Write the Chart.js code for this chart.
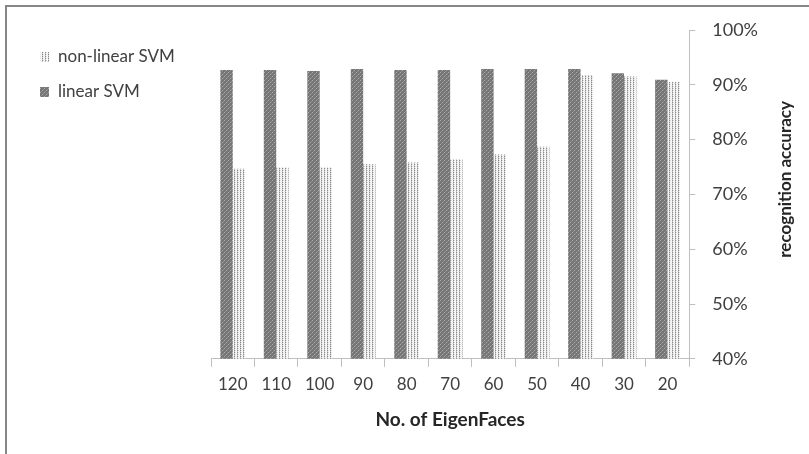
<!DOCTYPE html>
<html>
<head>
<meta charset="utf-8">
<script src="https://cdn.jsdelivr.net/npm/chart.js@4/dist/chart.umd.min.js"></script>
<style>
  html, body { margin: 0; padding: 0; background: #ffffff; }
  #wrap { width: 809px; height: 454px; }
</style>
</head>
<body>
<div id="wrap"><canvas id="c" width="809" height="454"></canvas></div>
<script>
// Recognition accuracy (%) per number of eigenfaces
const categories = ['120', '110', '100', '90', '80', '70', '60', '50', '40', '30', '20'];
const linearSVM = [92.7, 92.7, 92.5, 92.9, 92.7, 92.7, 92.9, 92.9, 92.9, 92.1, 90.9];
const nonLinearSVM = [74.7, 74.9, 74.9, 75.5, 75.8, 76.4, 77.3, 78.7, 91.8, 91.5, 90.5];
const yTicks = [40, 50, 60, 70, 80, 90, 100];

const FONT = 'Lato, "Open Sans", sans-serif';

// Small repeating pixel tiles used as bar fills
function makePattern(w, h, base, dots) {
  const t = document.createElement('canvas');
  t.width = w; t.height = h;
  const g = t.getContext('2d');
  g.fillStyle = base;
  g.fillRect(0, 0, w, h);
  dots.forEach(([x, y, col]) => { g.fillStyle = col; g.fillRect(x, y, 1, 1); });
  return g.createPattern(t, 'repeat');
}

const darkFill = makePattern(4, 4, '#767676', [[0, 0, '#acacac'], [2, 2, '#acacac'], [1, 3, '#8c8c8c'], [3, 1, '#8c8c8c']]);
const lightFill = makePattern(3, 2, '#ffffff', [[0, 0, '#8a8a8a'], [0, 1, '#c8c8c8'], [1, 0, '#dedede'], [2, 1, '#eeeeee']]);

// Outer frame of the chart
const framePlugin = {
  id: 'frame',
  beforeDraw(chart) {
    const ctx = chart.ctx;
    ctx.save();
    ctx.fillStyle = '#ffffff';
    ctx.fillRect(0, 0, chart.width, chart.height);
    ctx.strokeStyle = '#878787';
    ctx.lineWidth = 2;
    ctx.strokeRect(6, 6, chart.width + 20, chart.height + 20);
    ctx.restore();
  }
};

// Legend in the upper-left corner (series listed in reverse order)
const legendPlugin = {
  id: 'sideLegend',
  afterDraw(chart) {
    const ctx = chart.ctx;
    const ds = chart.data.datasets.slice().reverse();
    ctx.save();
    ctx.font = '17px ' + FONT;
    ctx.textBaseline = 'middle';
    ds.forEach((d, i) => {
      const y = 57 + i * 35;
      ctx.fillStyle = d.backgroundColor;
      ctx.fillRect(40, y - 5, 9, 10);
      ctx.fillStyle = '#404040';
      ctx.fillText(d.label, 58, y);
    });
    ctx.restore();
  }
};

// Right-hand axis title, reading bottom to top
const yTitlePlugin = {
  id: 'yTitle',
  afterDraw(chart) {
    const ctx = chart.ctx;
    const area = chart.chartArea;
    ctx.save();
    ctx.translate(786, (area.top + area.bottom) / 2 - 15);
    ctx.rotate(-Math.PI / 2);
    ctx.font = 'bold 17px ' + FONT;
    ctx.fillStyle = '#262626';
    ctx.textAlign = 'center';
    ctx.textBaseline = 'middle';
    ctx.fillText('recognition accuracy', 0, 0);
    ctx.restore();
  }
};

new Chart(document.getElementById('c'), {
  type: 'bar',
  data: {
    labels: categories,
    datasets: [
      { label: 'linear SVM', data: linearSVM, backgroundColor: darkFill, borderWidth: 0 },
      { label: 'non-linear SVM', data: nonLinearSVM, backgroundColor: lightFill, borderWidth: 0 }
    ]
  },
  options: {
    responsive: false,
    devicePixelRatio: 1,
    animation: false,
    layout: { padding: { left: 211, top: 30, right: 34, bottom: 23 } },
    datasets: { bar: { categoryPercentage: 0.57, barPercentage: 1.0 } },
    plugins: {
      legend: { display: false },
      tooltip: { enabled: false }
    },
    scales: {
      x: {
        grid: { display: true, drawOnChartArea: false, drawTicks: true, tickLength: 8, color: '#bfbfbf', offset: true },
        border: { color: '#bfbfbf', width: 1 },
        ticks: { font: { family: FONT, size: 17 }, color: '#404040', padding: 8, maxRotation: 0 },
        title: { display: true, text: 'No. of EigenFaces', font: { family: FONT, size: 19, weight: 'bold' }, color: '#262626', padding: { top: 5, bottom: 0 } }
      },
      y: {
        position: 'right',
        min: 40,
        max: 100,
        afterBuildTicks(scale) { scale.ticks = yTicks.map(v => ({ value: v })); },
        grid: { display: true, drawOnChartArea: false, drawTicks: true, tickLength: 6, color: '#bfbfbf' },
        border: { color: '#bfbfbf', width: 1 },
        ticks: { font: { family: FONT, size: 18 }, color: '#404040', padding: 17, callback: v => v + '%' }
      }
    }
  },
  plugins: [framePlugin, legendPlugin, yTitlePlugin]
});
</script>
</body>
</html>
